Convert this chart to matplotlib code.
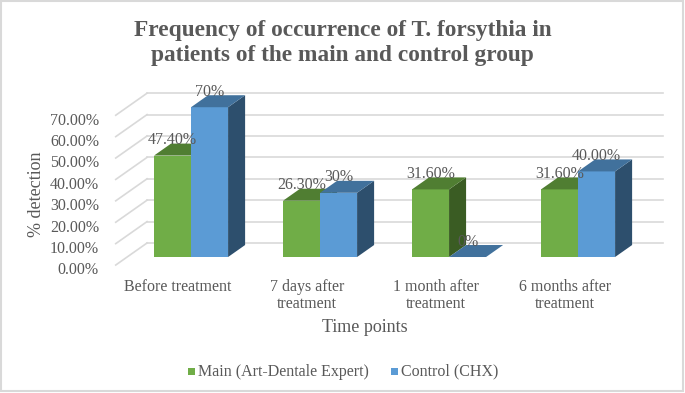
import matplotlib.pyplot as plt
from matplotlib.patches import Polygon, Rectangle

plt.rcParams['font.family'] = ['Liberation Serif', 'DejaVu Serif']

categories = ['Before treatment', '7 days after\ntreatment', '1 month after\ntreatment', '6 months after\ntreatment']
main_vals = [47.4, 26.3, 31.6, 31.6]
control_vals = [70, 30, 0, 40]
main_labels = ['47.40%', '26.30%', '31.60%', '31.60%']
control_labels = ['70%', '30%', '0%', '40.00%']
yticks = [0, 10, 20, 30, 40, 50, 60, 70]
series_names = ['Main (Art-Dentale Expert)', 'Control (CHX)']

green = ('#70AD47', '#507E32', '#3A5C23')   # front, top, side
blue = ('#5B9BD5', '#41719C', '#2D4F6D')
grid_col = '#D9D9D9'
txt_col = '#595959'

# oblique 3d look: depth offsets in data units
bw = 0.287
ox, oy = 0.132, 5.6
wall_d = 1.17
front_d = -0.67

fig = plt.figure(figsize=(6.85, 3.93), dpi=100)
ax = fig.add_axes([0, 0, 1, 1])
ax.set_xlim(-1.481, 3.829)
ax.set_ylim(-63.55, 120.1)
ax.axis('off')

x_left = -0.341
x_right = 3.66
for v in yticks:
    ax.plot([x_left, x_right], [v + wall_d * oy, v + wall_d * oy], color=grid_col, lw=1.2, zorder=1)
    ax.plot([x_left - (wall_d - front_d) * ox, x_left], [v + front_d * oy, v + wall_d * oy],
            color=grid_col, lw=1.2, zorder=1)
    ax.text(x_left - (wall_d - front_d) * ox - 0.13, v + front_d * oy - 2.5, f'{v:.2f}%',
            ha='right', va='center', fontsize=11.5, color=txt_col)


def bar3d(x0, v, cols):
    x1 = x0 + bw
    if v > 0:
        ax.add_patch(Polygon([(x1, 0), (x1, v), (x1 + ox, v + oy), (x1 + ox, oy)],
                             closed=True, fc=cols[2], ec='none', zorder=3))
        ax.add_patch(Rectangle((x0, 0), bw, v, fc=cols[0], ec='none', zorder=3))
    ax.add_patch(Polygon([(x0, v), (x1, v), (x1 + ox, v + oy), (x0 + ox, v + oy)],
                         closed=True, fc=cols[1], ec='none', zorder=3))


for i, cat in enumerate(categories):
    bar3d(i - bw, main_vals[i], green)
    bar3d(i, control_vals[i], blue)
    ax.text(i - bw / 2, main_vals[i] + oy - 0.3, main_labels[i], ha='center', va='baseline',
            fontsize=11.5, color=txt_col, zorder=5)
    ax.text(i + bw / 2, control_vals[i] + oy - 0.3, control_labels[i], ha='center', va='baseline',
            fontsize=11.5, color=txt_col, zorder=5)
    ax.text(i - 0.1, -10.3, cat, ha='center', va='top', fontsize=11.5, color=txt_col,
            linespacing=1.12)

fig.text(0.5, 0.948, 'Frequency of occurrence of T. forsythia in\npatients of the main and control group',
         ha='center', va='top', fontsize=16.8, fontweight='bold', color=txt_col, linespacing=1.25)
fig.text(0.053, 0.505, '% detection', rotation=90, ha='center', va='center', fontsize=13, color=txt_col)
fig.text(0.533, 0.166, 'Time points', ha='center', va='center', fontsize=13, color=txt_col)

# legend
leg_x = [0.274, 0.571]
for j, name in enumerate(series_names):
    c = green[0] if j == 0 else blue[0]
    fig.patches.append(Rectangle((leg_x[j], 0.045), 0.0105, 0.018, transform=fig.transFigure,
                                 fc=c, ec='none', figure=fig))
    fig.text(leg_x[j] + 0.015, 0.054, name, ha='left', va='center', fontsize=11.5, color=txt_col)

fig.patches.append(Rectangle((0.001, 0.004), 0.996, 0.993, transform=fig.transFigure,
                             fc='none', ec=grid_col, lw=1.5, figure=fig))

fig.savefig('out.png', dpi=100)
